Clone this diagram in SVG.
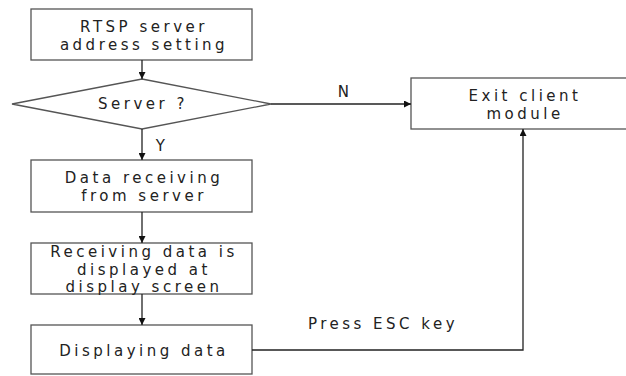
<svg xmlns="http://www.w3.org/2000/svg" width="626" height="376" viewBox="0 0 626 376">
<defs>
<marker id="ah" viewBox="0 0 10 10" refX="10" refY="5" markerWidth="7" markerHeight="7" markerUnits="userSpaceOnUse" orient="auto">
<path d="M0,0 L10,5 L0,10 z" fill="#111"/>
</marker>
</defs>
<style>
.box{fill:#fff;stroke:#555;stroke-width:1.3}
.t{font-family:"DejaVu Sans","Noto Sans CJK KR",sans-serif;font-size:15px;fill:#222;text-anchor:middle;letter-spacing:3.5px}
.c{fill:none;stroke:#222;stroke-width:1.3}
</style>
<rect width="626" height="376" fill="#fff"/>
<g id="n1"><rect class="box" x="31" y="9" width="221" height="51"/>
<text class="t" x="144" y="32">RTSP server</text><text class="t" x="144" y="49.5">address setting</text></g>
<g id="n2"><polygon class="box" points="142,79 271,104 142,129 12,104"/>
<text class="t" x="143" y="109">Server ?</text></g>
<g id="n3"><rect class="box" x="31" y="160" width="221" height="52"/>
<text class="t" x="144" y="183">Data receiving</text><text class="t" x="144" y="200.5">from server</text></g>
<g id="n4"><rect class="box" x="31" y="243" width="221" height="51"/>
<text class="t" x="144" y="257">Receiving data is</text><text class="t" x="144" y="274.5">displayed at</text><text class="t" x="144" y="292">display screen</text></g>
<g id="n5"><rect class="box" x="31" y="325" width="221" height="49"/>
<text class="t" x="144" y="356">Displaying data</text></g>
<g id="n6"><rect class="box" x="411" y="78" width="225" height="51"/>
<text class="t" x="525" y="101">Exit client</text><text class="t" x="525" y="118.5">module</text></g>
<g id="connectors">
<path class="c" d="M142,60 V79" marker-end="url(#ah)"/>
<path class="c" d="M142,129 V160" marker-end="url(#ah)"/>
<path class="c" d="M142,212 V243" marker-end="url(#ah)"/>
<path class="c" d="M142,294 V325" marker-end="url(#ah)"/>
<path class="c" d="M271,104 H411" marker-end="url(#ah)"/>
<path class="c" d="M252,350 H523 V129" marker-end="url(#ah)"/>
<text class="t" x="162" y="151">Y</text>
<text class="t" x="345" y="97">N</text>
<text class="t" x="383" y="329">Press ESC key</text>
</g>
</svg>
